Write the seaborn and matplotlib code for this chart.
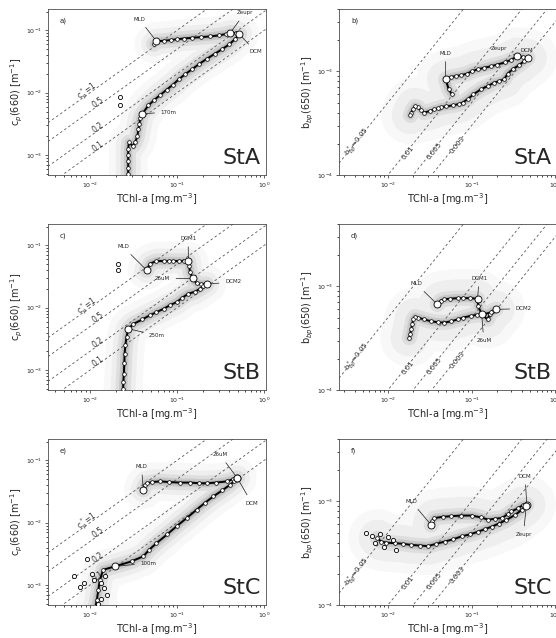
import numpy as np
import matplotlib
matplotlib.use('Agg')
import matplotlib.pyplot as plt
import seaborn as sns

# ── Data ─────────────────────────────────────────────────────────────────────

XLIM_CP = (0.0033, 1.05)
YLIM_CP = (4.8e-4, 0.22)
XLIM_BB = (0.0026, 1.05)
YLIM_BB = (1e-4, 4e-3)

CP_RATIOS = [1, 0.5, 0.2, 0.1]
CP_LABELS = ['c$_p^*$=1', '0.5', '0.2', '0.1']
BB_RATIOS = [0.05, 0.01, 0.005, 0.003]
BB_LABELS = ['b$_{bp}^*$=0.05', '0.01', '0.005', '0.003']
BB_LABEL_X = [0.0044, 0.0175, 0.036, 0.068]

# a) StA cp
A_CHL = [0.054, 0.058, 0.070, 0.085, 0.10, 0.12, 0.15, 0.19, 0.24, 0.30, 0.36,
         0.41, 0.47, 0.52, 0.46, 0.40, 0.33, 0.27, 0.22, 0.18, 0.15, 0.125,
         0.105, 0.090, 0.076, 0.064, 0.055, 0.047, 0.040, 0.038, 0.037, 0.036,
         0.035, 0.033, 0.031, 0.028, 0.0275, 0.0275, 0.0275, 0.0275, 0.0275]
A_CP = [0.060, 0.067, 0.068, 0.070, 0.072, 0.074, 0.076, 0.078, 0.080, 0.083,
        0.087, 0.092, 0.090, 0.087, 0.072, 0.060, 0.050, 0.042, 0.035, 0.029,
        0.024, 0.020, 0.0165, 0.0135, 0.0112, 0.0092, 0.0077, 0.0063, 0.0046,
        0.0039, 0.0032, 0.0026, 0.0020, 0.0016, 0.0014, 0.0016, 0.00125,
        0.0010, 0.00080, 0.00063, 0.00050]
A_OUT_CHL = [0.022, 0.022]
A_OUT_CP = [0.0085, 0.0063]
A_KEYS = {'MLD': (0.058, 0.067, 0.037, 0.15),
          'Zeupr': (0.41, 0.092, 0.60, 0.19),
          'DCM': (0.52, 0.087, 0.80, 0.045),
          '170m': (0.040, 0.0046, 0.08, 0.0049)}

# b) StA bbp
B_CHL = [0.058, 0.053, 0.049, 0.056, 0.065, 0.075, 0.088, 0.10, 0.12, 0.14,
         0.17, 0.20, 0.25, 0.30, 0.353, 0.41, 0.473, 0.42, 0.37, 0.31, 0.27,
         0.245, 0.21, 0.186, 0.155, 0.129, 0.105, 0.090, 0.078, 0.071, 0.060,
         0.050, 0.043, 0.040, 0.036, 0.032, 0.027, 0.025, 0.0228, 0.021,
         0.020, 0.019, 0.0186]
B_BBP = [6.0e-4, 6.8e-4, 8.4e-4, 8.8e-4, 9.0e-4, 9.2e-4, 9.5e-4, 1.0e-3,
         1.05e-3, 1.08e-3, 1.12e-3, 1.16e-3, 1.22e-3, 1.3e-3, 1.4e-3, 1.38e-3,
         1.35e-3, 1.25e-3, 1.15e-3, 1.05e-3, 9.5e-4, 8.4e-4, 8.0e-4, 7.8e-4,
         7.2e-4, 6.7e-4, 6.0e-4, 5.4e-4, 5.0e-4, 4.85e-4, 4.7e-4, 4.6e-4,
         4.5e-4, 4.4e-4, 4.3e-4, 4.15e-4, 4.0e-4, 4.2e-4, 4.5e-4, 4.6e-4,
         4.35e-4, 4.0e-4, 3.76e-4]
B_KEYS = {'MLD': (0.049, 8.4e-4, 0.049, 1.5e-3),
          'Zeupr': (0.353, 1.4e-3, 0.215, 1.65e-3),
          'DCM': (0.473, 1.35e-3, 0.46, 1.6e-3)}

# c) StB cp
C_CHL = [0.0448, 0.049, 0.058, 0.070, 0.080, 0.091, 0.105, 0.12, 0.135, 0.138,
         0.141, 0.151, 0.168, 0.19, 0.219, 0.20, 0.184, 0.16, 0.135, 0.115,
         0.099, 0.083, 0.070, 0.058, 0.049, 0.040, 0.0316, 0.0276, 0.0263,
         0.0255, 0.025, 0.0248, 0.0245, 0.0242, 0.024]
C_CP = [0.040, 0.051, 0.056, 0.056, 0.056, 0.056, 0.056, 0.056, 0.056, 0.046,
        0.0376, 0.0295, 0.0245, 0.024, 0.0238, 0.022, 0.0202, 0.018, 0.0168,
        0.0145, 0.0123, 0.011, 0.0096, 0.0085, 0.0076, 0.0065, 0.0055, 0.0046,
        0.0034, 0.0025, 0.0018, 0.0013, 0.00087, 0.00065, 0.00049]
C_OUT_CHL = [0.021, 0.021]
C_OUT_CP = [0.051, 0.040]
C_KEYS = {'MLD': (0.0448, 0.040, 0.024, 0.095),
          'DCM1': (0.135, 0.056, 0.134, 0.13),
          '26uM': (0.151, 0.0295, 0.068, 0.0295),
          'DCM2': (0.219, 0.0238, 0.44, 0.026),
          '250m': (0.0276, 0.0046, 0.059, 0.0036)}

# d) StB bbp
D_CHL = [0.039, 0.043, 0.047, 0.055, 0.068, 0.080, 0.095, 0.118, 0.120,
         0.132, 0.155, 0.165, 0.178, 0.195, 0.17, 0.14, 0.115, 0.098, 0.080,
         0.068, 0.057, 0.047, 0.040, 0.033, 0.027, 0.0228, 0.021, 0.020,
         0.0195, 0.019, 0.0185, 0.018]
D_BBP = [6.7e-4, 7.3e-4, 7.5e-4, 7.6e-4, 7.7e-4, 7.7e-4, 7.7e-4, 7.6e-4,
         6.45e-4, 5.4e-4, 4.8e-4, 5.4e-4, 5.8e-4, 6.0e-4, 5.6e-4, 5.4e-4,
         5.3e-4, 5.2e-4, 5.0e-4, 4.8e-4, 4.6e-4, 4.47e-4, 4.5e-4, 4.6e-4,
         4.8e-4, 5.0e-4, 5.1e-4, 4.8e-4, 4.3e-4, 3.9e-4, 3.5e-4, 3.2e-4]
D_KEYS = {'MLD': (0.039, 6.7e-4, 0.0217, 1.06e-3),
          'DCM1': (0.118, 7.6e-4, 0.123, 1.2e-3),
          '26uM': (0.132, 5.4e-4, 0.14, 3.0e-4),
          'DCM2': (0.195, 6.0e-4, 0.42, 6.1e-4)}

# e) StC cp
E_CHL = [0.041, 0.043, 0.045, 0.052, 0.064, 0.080, 0.108, 0.14, 0.18, 0.219,
         0.28, 0.37, 0.44, 0.493, 0.45, 0.41, 0.33, 0.262, 0.21, 0.168, 0.13,
         0.099, 0.077, 0.058, 0.048, 0.041, 0.030, 0.0194, 0.0142, 0.013,
         0.0125, 0.012, 0.0115]
E_CP = [0.034, 0.040, 0.043, 0.045, 0.046, 0.045, 0.044, 0.044, 0.043, 0.043,
        0.044, 0.046, 0.050, 0.052, 0.046, 0.041, 0.033, 0.0265, 0.021,
        0.0162, 0.012, 0.0088, 0.0065, 0.0047, 0.0037, 0.0029, 0.0024, 0.0020,
        0.00176, 0.00122, 0.00084, 0.00058, 0.00043]
E_OUT_CHL = [0.0065, 0.0077, 0.0085, 0.0093, 0.0105, 0.0135, 0.0145, 0.0155,
             0.0135, 0.0125, 0.0110, 0.0150]
E_OUT_CP = [0.0014, 0.00093, 0.0011, 0.0026, 0.0015, 0.0011, 0.0009, 0.0007,
            0.0006, 0.0005, 0.0012, 0.0014]
E_KEYS = {'MLD': (0.041, 0.034, 0.039, 0.080),
          '26uM': (0.493, 0.052, 0.31, 0.123),
          'DCM': (0.493, 0.052, 0.72, 0.0207),
          '100m': (0.0194, 0.0020, 0.047, 0.00225)}

# f) StC bbp
F_CHL = [0.033, 0.034, 0.036, 0.045, 0.0575, 0.075, 0.10, 0.13, 0.158, 0.19,
         0.229, 0.27, 0.30, 0.36, 0.41, 0.457, 0.40, 0.33, 0.26, 0.21, 0.174,
         0.145, 0.12, 0.095, 0.076, 0.060, 0.048, 0.038, 0.030, 0.024, 0.019,
         0.015, 0.012, 0.0095, 0.0083, 0.0075]
F_BBP = [5.9e-4, 6.5e-4, 6.9e-4, 7.1e-4, 7.2e-4, 7.3e-4, 7.3e-4, 7.0e-4,
         6.65e-4, 6.8e-4, 6.9e-4, 7.5e-4, 8.0e-4, 8.6e-4, 9.2e-4, 9.3e-4,
         8.3e-4, 7.4e-4, 6.6e-4, 6.1e-4, 5.7e-4, 5.4e-4, 5.1e-4, 4.8e-4,
         4.6e-4, 4.3e-4, 4.1e-4, 3.9e-4, 3.7e-4, 3.75e-4, 3.8e-4, 3.9e-4,
         3.95e-4, 4.0e-4, 4.1e-4, 4.4e-4]
F_OUT_CHL = [0.0055, 0.0065, 0.0080, 0.0100, 0.0115, 0.0090, 0.0125, 0.0070]
F_OUT_BBP = [4.9e-4, 4.6e-4, 4.8e-4, 4.5e-4, 4.2e-4, 3.6e-4, 3.4e-4, 4.0e-4]
F_KEYS = {'MLD': (0.033, 5.9e-4, 0.019, 1.0e-3),
          'DCM': (0.457, 9.3e-4, 0.436, 1.75e-3),
          'Zeupr': (0.45, 9.0e-4, 0.417, 4.8e-4)}

# ── Style / layout ───────────────────────────────────────────────────────────

sns.set_style('ticks')
plt.rcParams['font.family'] = ['DejaVu Sans']
plt.rcParams['xtick.labelsize'] = 4.5
plt.rcParams['ytick.labelsize'] = 4.5
plt.rcParams['xtick.major.size'] = 2.5
plt.rcParams['ytick.major.size'] = 2.5
plt.rcParams['xtick.minor.size'] = 1.2
plt.rcParams['ytick.minor.size'] = 1.2

W, H = 556, 638
fig = plt.figure(figsize=(W / 100, H / 100), dpi=100)

ROW_TOPS = [9, 224, 439]
AX_H = 166
LEFT_X, RIGHT_X, AX_W = 48, 339, 218


def make_ax(x0, top):
    return fig.add_axes([x0 / W, 1 - (top + AX_H) / H, AX_W / W, AX_H / H])


def px_angle(ax, x0, k):
    p1 = ax.transData.transform((x0, k * x0))
    p2 = ax.transData.transform((x0 * 2, k * x0 * 2))
    return np.degrees(np.arctan2(p2[1] - p1[1], p2[0] - p1[0]))


def draw_panel(ax, chl, val, keys, letter, station, kind,
               out_x=None, out_y=None, cloud=1.0):
    if kind == 'cp':
        xlim, ylim = XLIM_CP, YLIM_CP
    else:
        xlim, ylim = XLIM_BB, YLIM_BB
    ax.set_xscale('log')
    ax.set_yscale('log')
    ax.set_xlim(*xlim)
    ax.set_ylim(*ylim)

    # gray cloud of raw data around the profile
    for lw, a in [(28 * cloud, 0.05), (18 * cloud, 0.08), (11, 0.14),
                  (6, 0.22), (3, 0.3)]:
        sns.lineplot(x=chl, y=val, sort=False, estimator=None, ax=ax,
                     color='0.5', lw=lw, alpha=a, solid_capstyle='round',
                     solid_joinstyle='round', zorder=1)

    # ratio isolines
    xs = np.array(xlim)
    if kind == 'cp':
        for k, lab in zip(CP_RATIOS, CP_LABELS):
            ax.plot(xs, k * xs, ls=(0, (3, 3)), color='0.35', lw=0.6, zorder=2)
            lx = 0.0093 if k == 1 else 0.0125
            ax.text(lx, k * lx * 1.12, lab, fontsize=5.5, ha='center',
                    va='center', rotation=px_angle(ax, lx, k),
                    rotation_mode='anchor', color='0.2', zorder=3)
    else:
        for k, lab, lx in zip(BB_RATIOS, BB_LABELS, BB_LABEL_X):
            ax.plot(xs, k * xs, ls=(0, (3, 3)), color='0.35', lw=0.6, zorder=2)
            ax.text(lx, k * lx * 0.95, lab, fontsize=5, ha='center',
                    va='center', rotation=px_angle(ax, lx, k),
                    rotation_mode='anchor', color='0.2', zorder=3)

    # profile
    sns.lineplot(x=chl, y=val, sort=False, estimator=None, ax=ax,
                 color='k', lw=1.4, zorder=4)
    sns.scatterplot(x=chl, y=val, ax=ax, s=7, color='white',
                    edgecolor='k', linewidth=0.5, zorder=5)
    if out_x is not None:
        sns.scatterplot(x=out_x, y=out_y, ax=ax, s=9, color='white',
                        edgecolor='k', linewidth=0.6, zorder=5)

    # key depths
    for name, (kx, ky, tx, ty) in keys.items():
        ax.annotate(name, xy=(kx, ky), xytext=(tx, ty), fontsize=4,
                    ha='center', va='center', color='0.15',
                    arrowprops=dict(arrowstyle='-', lw=0.5, color='0.1',
                                    shrinkA=2, shrinkB=0), zorder=6)
        ax.plot([kx], [ky], 'o', ms=5, mfc='white', mec='k', mew=0.6,
                zorder=7)

    ax.text(0.055, 0.92, letter, transform=ax.transAxes, fontsize=5)
    ax.text(0.975, 0.04, station, transform=ax.transAxes, fontsize=16,
            ha='right', va='bottom')
    ax.set_xlabel('TChl-a [mg.m$^{-3}$]', fontsize=7, labelpad=1)
    if kind == 'cp':
        ax.set_ylabel('c$_p$(660) [m$^{-1}$]', fontsize=7, labelpad=1)
    else:
        ax.set_ylabel('b$_{bp}$(650) [m$^{-1}$]', fontsize=7, labelpad=1)
    for sp in ax.spines.values():
        sp.set_linewidth(0.6)
        sp.set_color('0.3')
    ax.tick_params(width=0.5, pad=1.5)


ax = make_ax(LEFT_X, ROW_TOPS[0])
draw_panel(ax, A_CHL, A_CP, A_KEYS, 'a)', 'StA', 'cp', A_OUT_CHL, A_OUT_CP)
ax = make_ax(RIGHT_X, ROW_TOPS[0])
draw_panel(ax, B_CHL, B_BBP, B_KEYS, 'b)', 'StA', 'bb', cloud=1.5)
ax = make_ax(LEFT_X, ROW_TOPS[1])
draw_panel(ax, C_CHL, C_CP, C_KEYS, 'c)', 'StB', 'cp', C_OUT_CHL, C_OUT_CP)
ax = make_ax(RIGHT_X, ROW_TOPS[1])
draw_panel(ax, D_CHL, D_BBP, D_KEYS, 'd)', 'StB', 'bb', cloud=1.5)
ax = make_ax(LEFT_X, ROW_TOPS[2])
draw_panel(ax, E_CHL, E_CP, E_KEYS, 'e)', 'StC', 'cp', E_OUT_CHL, E_OUT_CP)
ax = make_ax(RIGHT_X, ROW_TOPS[2])
draw_panel(ax, F_CHL, F_BBP, F_KEYS, 'f)', 'StC', 'bb', F_OUT_CHL, F_OUT_BBP,
           cloud=1.5)

fig.savefig('out.png', dpi=100)
